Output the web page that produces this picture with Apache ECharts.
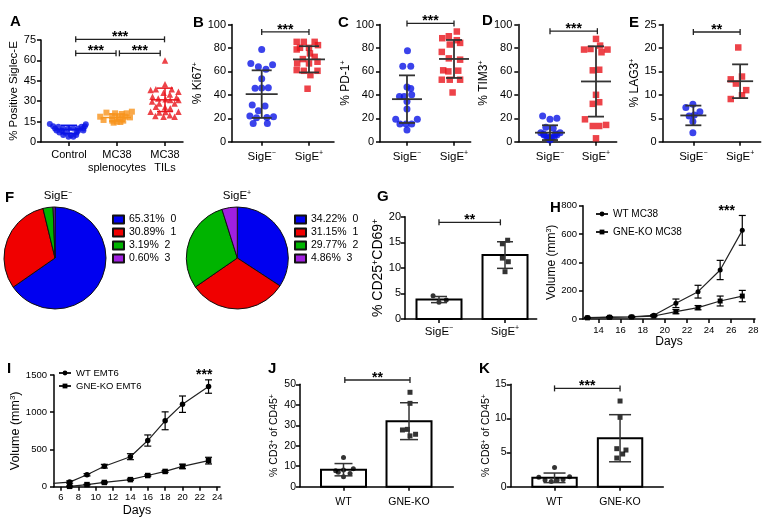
<!DOCTYPE html>
<html><head><meta charset="utf-8">
<script src="https://cdn.jsdelivr.net/npm/echarts@6/dist/echarts.min.js"></script>
<style>html,body{margin:0;padding:0;background:#fff}#c{width:764px;height:522px}</style>
</head><body><div id="c"></div>
<script>
// ---------------- DATA ----------------
// Panel A: [x jitter (category units), value]
const aCats = ['Control', 'MC38\nsplenocytes', 'MC38\nTILs'];
const aControl = [[-0.40,13.2],[0.35,13.0],[-0.33,11.5],[-0.22,11.3],[0.26,11.2],[0.33,11.5],[-0.29,10.0],[-0.12,10.0],[-0.01,10.0],[0.09,10.0],[0.19,10.0],[0.30,10.0],[-0.26,8.5],[-0.15,8.3],[0.19,8.2],[0.30,8.4],[-0.20,7.0],[-0.08,6.8],[0.16,6.9],[-0.12,5.2],[0.04,5.0],[0.15,5.1],[-0.01,3.9],[0.09,3.8]];
const aSplen = [[0.31,22.3],[-0.22,21.6],[-0.04,21.1],[0.10,20.6],[0.20,21.1],[-0.35,18.6],[-0.10,19.1],[0.03,18.1],[0.16,18.6],[0.27,18.1],[-0.28,16.2],[-0.10,15.7],[0.00,15.0],[0.13,15.7],[-0.07,14.2],[0.07,14.7]];
const aTils = [[0.00,60],[0.00,42.4],[-0.19,38.7],[0.14,38.7],[0.28,37],[-0.30,38.2],[-0.03,36.3],[0.10,35],[-0.26,33.3],[0.24,32.8],[-0.14,31.9],[0.01,31.4],[0.11,30.9],[0.28,30.9],[-0.27,29.7],[-0.12,28.4],[0.20,28.4],[-0.19,26],[0.00,25.5],[0.11,24.8],[-0.30,22.3],[-0.12,21.6],[0.01,22.1],[0.28,22.3],[-0.20,19.1],[-0.03,18.6],[0.10,19.6],[0.20,18.6]];
const aMeanSd = [[9.3,3.0],[18.0,2.6],[31.0,8.6]];
const aBrackets = [[1.14,2.99,75.5],[1.14,1.98,65.2],[2.05,2.90,65.2]];
const aStars = ['***','***','***'];

const sigCats = ['SigE{sup|−}', 'SigE{sup|+}'];
// Panel B  (Ki67)
const bNeg = [[0,78.7],[-0.23,66.8],[0.23,65.6],[-0.07,63.9],[0.09,61.9],[0,53.7],[-0.14,45.5],[0.0,45.8],[0.14,46],[-0.2,31.3],[0.07,30.4],[-0.07,26.4],[-0.25,21.9],[-0.11,20.5],[0.11,20.7],[0.25,21.3],[-0.18,15.6],[0.12,15.6]];
const bPos = [[-0.26,85.2],[-0.11,85.2],[0.12,85.2],[0.19,82.4],[-0.19,80.1],[0,80.1],[-0.26,78.7],[0.02,75.3],[-0.13,70.5],[0.12,72.4],[-0.25,66.8],[0,66.8],[0.18,68.2],[-0.26,61.1],[-0.11,60.5],[0.18,60.5],[0.03,56.8],[-0.03,45.2]];
const bMeanSd = [[40.6,20.3],[70.3,11.2]];
const bBracket = [[1,2,93.7]];
// Panel C (PD-1)
const cNeg = [[0.01,77.7],[-0.09,64.3],[0.08,64.3],[0,46.6],[0.08,45.4],[-0.16,38.6],[-0.06,38.6],[0.10,40],[0,34.3],[0,28],[-0.24,19.1],[-0.15,15.1],[-0.02,15.1],[0.22,19.1],[0,10],[0.10,15.1]];
const cPos = [[-0.25,88.3],[-0.11,90],[0.06,94],[0.13,84.3],[0.06,86.6],[-0.09,82.9],[-0.26,76.6],[-0.11,71.1],[0.13,70],[-0.23,60.9],[-0.12,60],[0.09,60.6],[-0.26,52.9],[-0.09,52.9],[0.13,52.9],[-0.03,42]];
const cMeanSd = [[36.3,20.3],[70.6,16.2]];
const cBracket = [[1,2,100.9]];
// Panel D (TIM3)
const dNeg = [[-0.16,22],[0,19.1],[0.15,20],[-0.09,12.3],[0.07,11.4],[-0.2,7.7],[0.22,7.7],[-0.13,5.7],[0.15,5.7],[-0.07,4.3],[0.09,4.3],[-0.04,2.9],[0.03,2.9],[0,1.4],[-0.14,6.6],[0.12,6.6],[0,3.7]];
const dPos = [[0,87.7],[-0.26,78.6],[-0.12,79.1],[0.09,82],[0.25,78.6],[0.12,76.3],[-0.07,60.9],[0.07,61.4],[0,40],[-0.07,32.3],[0.07,33.7],[-0.24,19.1],[-0.07,13.4],[0.07,13.4],[0.22,14.3],[0,2.9]];
const dMeanSd = [[7.7,6.3],[51.4,30]];
const dBracket = [[1,2.03,94.3]];
// Panel E (LAG3)
const eNeg = [[-0.01,8.0],[-0.16,7.3],[0.14,6.4],[-0.09,5.5],[0.02,5.7],[-0.01,4.3],[-0.01,1.9]];
const ePos = [[-0.04,20.1],[-0.2,13.3],[0.04,13.9],[-0.09,12.4],[0.13,11],[0.04,9.9],[-0.2,9.1]];
const eMeanSd = [[5.6,2.1],[12.9,3.6]];
const eBracket = [[1,2,23.4]];
// Panel F (pies)
const pieColors = ['#0000f0','#f00000','#00b400','#a020e0'];
const pieNegVals = [65.31, 30.89, 3.19, 0.60];
const pieNegNames = ['65.31%  0','30.89%  1','3.19%  2','0.60%  3'];
const piePosVals = [34.22, 31.15, 29.77, 4.86];
const piePosNames = ['34.22%  0','31.15%  1','29.77%  2','4.86%  3'];
const pieTitles = ['SigE{sup|−}','SigE{sup|+}'];
// Panel G (CD25+CD69+)
const gNeg = [[-0.09,4.56],[0,3.26],[0.11,3.7]];
const gPos = [[0.04,15.4],[-0.04,14.7],[-0.04,11.9],[0.05,11.2],[0,9.25]];
const gMeanSd = [[3.8,0.6],[12.5,2.6]];
const gBracket = [[1,1.93,18.9]];
// Panel H (MC38 growth)
const hDays = [13,15,17,19,21,23,25,27];
const hWT = [10,14,16,26,111,193,346,626];
const hWTerr = [3,4,4,5,30,45,68,105];
const hKO = [8,12,14,21,52,80,127,162];
const hKOerr = [2,4,4,5,15,15,35,40];
const hTicks = [14,16,18,20,22,24,26,28];
const hStar = [[25.6,782]];
// Panel I (EMT6 growth)
const iDays = [5,7,9,11,14,16,18,20,23];
const iWT = [45,62,160,275,403,620,885,1108,1345];
const iWTerr = [0,15,15,25,40,75,120,110,90];
const iKODays = [7,9,11,14,16,18,20,23];
const iKO = [5,28,57,95,150,205,272,350];
const iKOerr = [5,5,8,10,10,12,30,45];
const iTicks = [6,8,10,12,14,16,18,20,22,24];
const iStar = [[22.5,1536]];
// Panel J (CD3+ of CD45+)
const koCats = ['WT','GNE-KO'];
const jWT = [[0,14.3],[-0.12,7.8],[-0.08,7.0],[0,8.1],[0.15,8.8],[0.1,6.5],[0,4.9]];
const jKO = [[0.015,46.1],[0.015,40.7],[-0.1,27.7],[-0.025,28],[0.1,25.6],[0.015,24.8]];
const jMeanSd = [[8.3,3.0],[32.0,9.0]];
const jBracket = [[1.02,2.015,52.1]];
// Panel K (CD8+ of CD45+)
const kWT = [[0,2.8],[-0.24,1.37],[0.23,1.47],[-0.145,0.98],[-0.05,0.78],[0.04,0.98],[0.13,1.07]];
const kKO = [[0,12.55],[0,10.16],[-0.05,5.57],[0.09,5.37],[0.04,4.79],[-0.05,4.2]];
const kMeanSd = [[1.3,0.7],[7.1,3.45]];
const kBracket = [[1,2,14.4]];

// ---------------- HELPERS ----------------
const FONT = 'Liberation Sans, Arial, Helvetica, sans-serif';
const INK = '#000';
function rich(fs) {
  return { sup: { fontSize: Math.round(fs * 0.62), verticalAlign: 'top', fontFamily: FONT, color: INK, lineHeight: fs * 0.9 } };
}
const grids = [], xAxes = [], yAxes = [], series = [];
const AX_LINE = { show: true, onZero: false, lineStyle: { color: INK, width: 1.5 } };
const AX_TICK = { show: true, inside: false, length: 4, lineStyle: { color: INK, width: 1.5 } };

function addPanel(box, x, y) {
  grids.push({ left: box[0], top: box[1], width: box[2], height: box[3], containLabel: false, outerBoundsMode: 'none' });
  const i = grids.length - 1;
  x.gridIndex = i; y.gridIndex = i;
  xAxes.push(x); yAxes.push(y);
  return i;
}
function catX(min, max, labels, fs, margin, lh) {
  const vals = labels.map((_, i) => i + 1);
  return { type: 'value', min, max, axisLine: AX_LINE,
    axisTick: Object.assign({}, AX_TICK, { customValues: vals }),
    axisLabel: { customValues: vals, formatter: v => labels[Math.round(v) - 1] || '', fontSize: fs, lineHeight: lh || fs * 1.2,
      margin, color: INK, fontFamily: FONT, rich: rich(fs) },
    splitLine: { show: false } };
}
function numX(min, max, ticks, fs, margin, name, nameGap, nameFs) {
  return { type: 'value', min, max, axisLine: AX_LINE,
    axisTick: Object.assign({}, AX_TICK, { customValues: ticks }),
    axisLabel: { customValues: ticks, fontSize: fs, margin, color: INK, fontFamily: FONT, formatter: v => String(v) },
    name, nameLocation: 'middle', nameGap, nameTextStyle: { fontSize: nameFs, color: INK, fontFamily: FONT },
    splitLine: { show: false } };
}
function valY(max, interval, fs, margin, name, nameGap, nameFs) {
  return { type: 'value', min: 0, max, interval, axisLine: AX_LINE, axisTick: AX_TICK,
    axisLabel: { fontSize: fs, margin, color: INK, fontFamily: FONT, formatter: v => String(v) },
    name, nameLocation: 'middle', nameRotate: 90, nameGap,
    nameTextStyle: { fontSize: nameFs, color: INK, fontFamily: FONT, rich: rich(nameFs) },
    splitLine: { show: false } };
}
function scatter(gi, center, pts, symbol, size, color) {
  series.push({ type: 'scatter', xAxisIndex: gi, yAxisIndex: gi, symbol, symbolSize: size,
    itemStyle: { color, borderWidth: 0 }, z: 3, silent: true,
    data: pts.map(p => [center + p[0], p[1]]) });
}
function meanSd(gi, stats, colors, mh, ch, lw) {
  series.push({ type: 'custom', xAxisIndex: gi, yAxisIndex: gi, z: 5, silent: true,
    data: stats.map((s, i) => [i + 1, s[0], s[1]]),
    renderItem: (params, api) => {
      const x = api.value(0), m = api.value(1), s = api.value(2);
      const c = api.coord([x, m]), t = api.coord([x, m + s]), b = api.coord([x, Math.max(m - s, 0)]);
      const st = { stroke: colors[params.dataIndex], lineWidth: lw };
      const ch2 = [
        { type: 'line', shape: { x1: c[0], y1: t[1], x2: c[0], y2: b[1] }, style: st },
        { type: 'line', shape: { x1: c[0] - ch, y1: t[1], x2: c[0] + ch, y2: t[1] }, style: st },
        { type: 'line', shape: { x1: c[0] - ch, y1: b[1], x2: c[0] + ch, y2: b[1] }, style: st }
      ];
      if (mh > 0) ch2.push({ type: 'line', shape: { x1: c[0] - mh, y1: c[1], x2: c[0] + mh, y2: c[1] }, style: st });
      return { type: 'group', children: ch2 };
    } });
}
function bars(gi, stats, hw) {
  series.push({ type: 'custom', xAxisIndex: gi, yAxisIndex: gi, z: 2, silent: true,
    data: stats.map((s, i) => [i + 1, s[0]]),
    renderItem: (params, api) => {
      const t = api.coord([api.value(0), api.value(1)]), b = api.coord([api.value(0), 0]);
      return { type: 'rect', shape: { x: t[0] - hw, y: t[1], width: hw * 2, height: b[1] - t[1] },
        style: { fill: '#fff', stroke: INK, lineWidth: 2 } };
    } });
}
function brackets(gi, list, stars) {
  series.push({ type: 'custom', xAxisIndex: gi, yAxisIndex: gi, z: 6, silent: true, clip: false,
    data: list,
    renderItem: (params, api) => {
      const y = api.value(2);
      const p1 = api.coord([api.value(0), y]), p2 = api.coord([api.value(1), y]);
      const st = { stroke: '#222', lineWidth: 1.3 };
      return { type: 'group', children: [
        { type: 'line', shape: { x1: p1[0], y1: p1[1], x2: p2[0], y2: p2[1] }, style: st },
        { type: 'line', shape: { x1: p1[0], y1: p1[1] - 3, x2: p1[0], y2: p1[1] + 3 }, style: st },
        { type: 'line', shape: { x1: p2[0], y1: p2[1] - 3, x2: p2[0], y2: p2[1] + 3 }, style: st },
        { type: 'text', style: { text: stars[params.dataIndex], x: (p1[0] + p2[0]) / 2, y: p1[1] - 2,
          align: 'center', verticalAlign: 'middle', fontSize: 14, fontWeight: 'bold', fontFamily: FONT, fill: INK } }
      ] };
    } });
}
function starText(gi, list, text) {
  series.push({ type: 'custom', xAxisIndex: gi, yAxisIndex: gi, z: 6, silent: true, clip: false,
    data: list,
    renderItem: (params, api) => {
      const p = api.coord([api.value(0), api.value(1)]);
      return { type: 'text', style: { text, x: p[0], y: p[1] + 3, align: 'center', verticalAlign: 'middle',
        fontSize: 14, fontWeight: 'bold', fontFamily: FONT, fill: INK } };
    } });
}
function growth(gi, name, days, vals, errs, symbol, size) {
  series.push({ type: 'line', name, xAxisIndex: gi, yAxisIndex: gi, symbol, symbolSize: size, clip: true,
    itemStyle: { color: INK }, lineStyle: { color: '#222', width: 1.2 }, z: 3, silent: true,
    data: days.map((d, i) => [d, vals[i]]) });
  series.push({ type: 'custom', xAxisIndex: gi, yAxisIndex: gi, z: 4, silent: true,
    data: days.map((d, i) => [d, vals[i], errs[i]]).filter(r => r[2] > 0),
    renderItem: (params, api) => {
      const x = api.value(0), m = api.value(1), e = api.value(2);
      const t = api.coord([x, m + e]), b = api.coord([x, m - e]);
      const st = { stroke: INK, lineWidth: 1.2 };
      return { type: 'group', children: [
        { type: 'line', shape: { x1: t[0], y1: t[1], x2: b[0], y2: b[1] }, style: st },
        { type: 'line', shape: { x1: t[0] - 3.5, y1: t[1], x2: t[0] + 3.5, y2: t[1] }, style: st },
        { type: 'line', shape: { x1: b[0] - 3.5, y1: b[1], x2: b[0] + 3.5, y2: b[1] }, style: st }
      ] };
    } });
}

const BLUE = '#0a14e6', RED = '#e8141c', ORANGE = '#f7941d', GREY = '#333';

// ---------------- PANELS ----------------
// A
let gi = addPanel([41, 40, 142, 102], catX(0.4167, 3.375, aCats, 11, 6, 13),
  valY(75, 15, 11, 5, '% Positive Siglec-E', 20, 11.5));
scatter(gi, 1, aControl, 'circle', 6, BLUE);
scatter(gi, 2, aSplen, 'rect', 6, ORANGE);
scatter(gi, 3, aTils, 'triangle', 6.5, RED);
meanSd(gi, aMeanSd, [BLUE, ORANGE, RED], 14, 8, 1.5);
brackets(gi, aBrackets, aStars);
// B
gi = addPanel([232, 24.5, 102, 117.2], catX(0.372, 2.529, sigCats, 11.5, 8),
  valY(100, 20, 11, 6, '% Ki67{sup|+}', 21, 12));
scatter(gi, 1, bNeg, 'circle', 7, BLUE);
scatter(gi, 2, bPos, 'rect', 6.5, RED);
meanSd(gi, bMeanSd, [GREY, GREY], 16, 10, 1.8);
brackets(gi, bBracket, ['***']);
// C
gi = addPanel([380, 24.5, 90.7, 117.2], catX(0.426, 2.355, sigCats, 11.5, 8),
  valY(100, 20, 11, 6, '% PD-1{sup|+}', 22, 12));
scatter(gi, 1, cNeg, 'circle', 7, BLUE);
scatter(gi, 2, cPos, 'rect', 6.5, RED);
meanSd(gi, cMeanSd, [GREY, GREY], 15, 8, 1.8);
brackets(gi, cBracket, ['***']);
// D
gi = addPanel([518.3, 24.5, 98.4, 117.2], catX(0.311, 2.45, sigCats, 11.5, 8),
  valY(100, 20, 11, 6, '% TIM3{sup|+}', 17, 12));
scatter(gi, 1, dNeg, 'circle', 7, BLUE);
scatter(gi, 2, dPos, 'rect', 6.5, RED);
meanSd(gi, dMeanSd, [GREY, GREY], 15, 8, 1.8);
brackets(gi, dBracket, ['***']);
// E
gi = addPanel([662.7, 24.5, 98, 117.2], catX(0.345, 2.44, sigCats, 11.5, 8),
  valY(25, 5, 11, 6, '% LAG3{sup|+}', 18, 12));
scatter(gi, 1, eNeg, 'circle', 7, BLUE);
scatter(gi, 2, ePos, 'rect', 6.5, RED);
meanSd(gi, eMeanSd, [GREY, GREY], 13, 8, 1.8);
brackets(gi, eBracket, ['**']);
// G
gi = addPanel([405, 216.7, 131.7, 102.3], catX(0.485, 2.48, sigCats, 11.5, 6),
  valY(20, 5, 11, 4, '% CD25{sup|+}CD69{sup|+}', 17, 14));
bars(gi, gMeanSd, 22.5);
scatter(gi, 1, gNeg, 'circle', 5, INK);
scatter(gi, 2, gPos, 'rect', 5, INK);
meanSd(gi, gMeanSd, [GREY, GREY], 0, 8, 1.5);
brackets(gi, gBracket, ['**']);
// H
gi = addPanel([583, 205.7, 172, 113.3], numX(12.6, 28.15, hTicks, 9.5, 6, 'Days', 14, 12),
  valY(800, 200, 9.5, 6, 'Volume (mm{sup|3})', 20, 12));
growth(gi, 'WT MC38', hDays, hWT, hWTerr, 'circle', 5);
growth(gi, 'GNE-KO MC38', hDays, hKO, hKOerr, 'rect', 5);
starText(gi, hStar, '***');
// I
gi = addPanel([54, 375, 166, 111.7], numX(5.2, 24.32, iTicks, 9.5, 6, 'Days', 17, 12.5),
  valY(1500, 500, 9.5, 7, 'Volume (mm{sup|3})', 26, 12.5));
growth(gi, 'WT EMT6', iDays, iWT, iWTerr, 'circle', 5.5);
growth(gi, 'GNE-KO EMT6', iKODays, iKO, iKOerr, 'rect', 5.5);
starText(gi, iStar, '***');
// J
gi = addPanel([300, 384.3, 153.3, 102.4], catX(0.336, 2.676, koCats, 10.5, 9),
  valY(50, 10, 10.5, 4, '% CD3{sup|+} of CD45{sup|+}', 20, 10.5));
bars(gi, jMeanSd, 22.5);
scatter(gi, 1, jWT, 'circle', 5, INK);
scatter(gi, 2, jKO, 'rect', 5, INK);
meanSd(gi, jMeanSd, [GREY, GREY], 0, 9, 1.5);
brackets(gi, jBracket, ['**']);
// K
gi = addPanel([510.7, 384.3, 152.6, 102.4], catX(0.331, 2.66, koCats, 10.5, 9),
  valY(15, 5, 10.5, 4, '% CD8{sup|+} of CD45{sup|+}', 10, 10.5));
bars(gi, kMeanSd, 22.2);
scatter(gi, 1, kWT, 'circle', 5, INK);
scatter(gi, 2, kKO, 'rect', 5, INK);
meanSd(gi, kMeanSd, [GREY, GREY], 0, 11, 1.5);
brackets(gi, kBracket, ['***']);

// F pies
function pie(center, names, vals) {
  series.push({ type: 'pie', center, radius: 51, startAngle: 90, clockwise: true, silent: true,
    label: { show: false }, labelLine: { show: false },
    itemStyle: { borderColor: '#111', borderWidth: 1 },
    data: names.map((n, i) => ({ name: n, value: vals[i], itemStyle: { color: pieColors[i] } })) });
}
pie([55, 258], pieNegNames, pieNegVals);
pie([237.3, 258], piePosNames, piePosVals);

const legendBase = { orient: 'vertical', selectedMode: false, padding: 0 };
const legends = [
  Object.assign({}, legendBase, { data: pieNegNames, left: 112, top: 214, icon: 'rect', itemWidth: 11, itemHeight: 8, itemGap: 2,
    textStyle: { fontSize: 10.5, color: INK, fontFamily: FONT, lineHeight: 9 } }),
  Object.assign({}, legendBase, { data: piePosNames, left: 294, top: 214, icon: 'rect', itemWidth: 11, itemHeight: 8, itemGap: 2,
    textStyle: { fontSize: 10.5, color: INK, fontFamily: FONT, lineHeight: 9 } }),
  Object.assign({}, legendBase, { data: ['WT MC38', 'GNE-KO MC38'], left: 595, top: 209, itemWidth: 12, itemHeight: 6, itemGap: 8,
    textStyle: { fontSize: 10, color: INK, fontFamily: FONT } }),
  Object.assign({}, legendBase, { data: ['WT EMT6', 'GNE-KO EMT6'], left: 58, top: 368, itemWidth: 12, itemHeight: 6, itemGap: 3,
    textStyle: { fontSize: 9.5, color: INK, fontFamily: FONT } })
];

// letters & pie titles
const letters = [['A',10,14],['B',193,15],['C',338,15],['D',482,13],['E',629,15],['F',5,190],['G',377,189],['H',550,200],['I',7,361],['J',268,361],['K',479,361]];
const graphic = letters.map(l => ({ type: 'text', left: l[1], top: l[2],
  style: { text: l[0], fontSize: 15, fontWeight: 900, fontFamily: FONT, fill: INK } }));
[[58, 196], [237, 196]].forEach((p, i) => graphic.push({ type: 'text', x: p[0], y: p[1],
  style: { text: pieTitles[i], align: 'center', verticalAlign: 'middle', fontSize: 11.5, fontFamily: FONT, fill: INK, rich: rich(11.5) } }));

const chart = echarts.init(document.getElementById('c'));
chart.setOption({
  animation: false,
  backgroundColor: '#fff',
  textStyle: { fontFamily: FONT },
  grid: grids, xAxis: xAxes, yAxis: yAxes,
  legend: legends,
  series,
  graphic
});
</script></body></html>
